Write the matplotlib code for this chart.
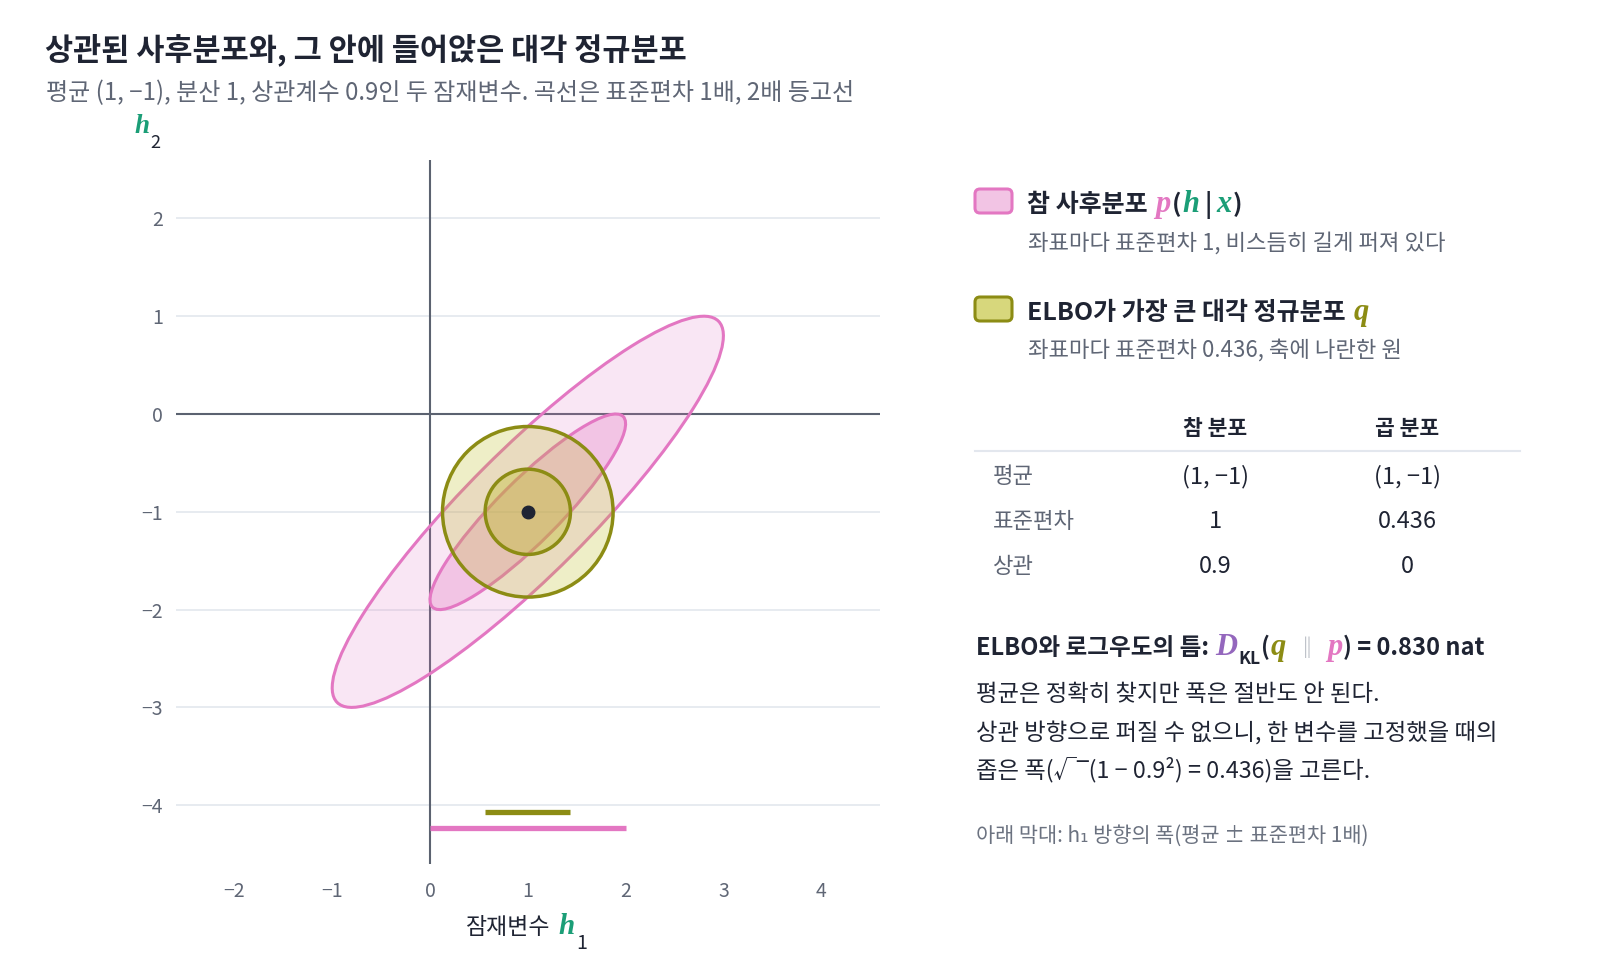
import numpy as np
import matplotlib
matplotlib.use('Agg')
import matplotlib.pyplot as plt
from matplotlib.patches import Ellipse, FancyBboxPatch

KR = ['Noto Sans CJK KR', 'DejaVu Sans']
SERIF = ['Liberation Serif', 'DejaVu Serif']
plt.rcParams['font.family'] = KR
plt.rcParams['axes.unicode_minus'] = True

# ---------------- data ----------------
mean = [1.0, -1.0]
p_std = 1.0
p_corr = 0.9
q_std = 0.436
levels = [1, 2]
kl_value = 0.830
x_ticks = [-2, -1, 0, 1, 2, 3, 4]
y_ticks = [-4, -3, -2, -1, 0, 1, 2]
table_cols = ['참 분포', '곱 분포']
table_rows = ['평균', '표준편차', '상관']
table_true = ['(1, −1)', '1', '0.9']
table_q = ['(1, −1)', '0.436', '0']

# ---------------- style ----------------
DARK = '#1f2433'
GRAY = '#5f6675'
LGRAY = '#6b7280'
PINK = '#e377c2'
OLIVE = '#8c8c14'
OLIVE_FILL = '#bcbd22'
GREEN = '#1b9e77'
PURPLE = '#9467bd'
GRID = '#e3e7ee'
AXLINE = '#5b6270'

W, H = 1600, 960
fig = plt.figure(figsize=(16, 9.6), dpi=100)
renderer = fig.canvas.get_renderer()

# overlay axes in pixel coordinates
ov = fig.add_axes([0, 0, 1, 1])
ov.set_xlim(0, W)
ov.set_ylim(H, 0)
ov.axis('off')

# main axes
x0px, y0px, upx = 430.0, 414.0, 97.8
xlim = (-2.6, 4.6)
ylim = (-4.6, 2.6)
left = x0px + xlim[0] * upx
right = x0px + xlim[1] * upx
top = y0px - ylim[1] * upx
bottom = y0px - ylim[0] * upx
ax = fig.add_axes([left / W, 1 - bottom / H, (right - left) / W, (bottom - top) / H])
ax.set_xlim(*xlim)
ax.set_ylim(*ylim)
for s in ax.spines.values():
    s.set_visible(False)
ax.set_xticks(x_ticks)
ax.set_yticks(y_ticks)
ax.tick_params(length=0, labelsize=14, labelcolor=GRAY)
ax.tick_params(axis='x', pad=12.5)
ax.tick_params(axis='y', pad=9)
for yv in y_ticks:
    ax.axhline(yv, color=GRID, lw=1.2, zorder=0)
ax.axhline(0, color=AXLINE, lw=1.5, zorder=1)
ax.axvline(0, color=AXLINE, lw=1.5, zorder=1)

# true posterior ellipses
cov = np.array([[p_std ** 2, p_corr * p_std ** 2], [p_corr * p_std ** 2, p_std ** 2]])
vals, vecs = np.linalg.eigh(cov)
order = np.argsort(vals)[::-1]
vals, vecs = vals[order], vecs[:, order]
angle = np.degrees(np.arctan2(vecs[1, 0], vecs[0, 0]))
for k, a in zip(sorted(levels, reverse=True), [0.18, 0.30]):
    e = Ellipse(mean, 2 * k * np.sqrt(vals[0]), 2 * k * np.sqrt(vals[1]), angle=angle,
                facecolor=PINK, alpha=a, edgecolor='none', zorder=2)
    ax.add_patch(e)
    e2 = Ellipse(mean, 2 * k * np.sqrt(vals[0]), 2 * k * np.sqrt(vals[1]), angle=angle,
                 facecolor='none', edgecolor=PINK, lw=2.2, zorder=2.5)
    ax.add_patch(e2)

# factorised q circles
for k, a in zip(sorted(levels, reverse=True), [0.25, 0.35]):
    c = Ellipse(mean, 2 * k * q_std, 2 * k * q_std, facecolor=OLIVE_FILL, alpha=a,
                edgecolor='none', zorder=3)
    ax.add_patch(c)
    c2 = Ellipse(mean, 2 * k * q_std, 2 * k * q_std, facecolor='none', edgecolor=OLIVE,
                 lw=2.5, zorder=4)
    ax.add_patch(c2)
ax.plot([mean[0]], [mean[1]], 'o', color=DARK, ms=9, zorder=5)

# width bars along h1
ax.plot([mean[0] - q_std, mean[0] + q_std], [-4.07, -4.07], color=OLIVE, lw=3.8,
        solid_capstyle='butt', zorder=3)
ax.plot([mean[0] - p_std, mean[0] + p_std], [-4.235, -4.235], color=PINK, lw=3.8,
        solid_capstyle='butt', zorder=3)


def rich(x, y, pieces):
    """pieces: (text, kwargs, dy, gap_after)"""
    cx = x
    for s, kw, dy, gap in pieces:
        t = ov.text(cx, y + dy, s, ha='left', va='baseline', **kw)
        bb = t.get_window_extent(renderer)
        cx += bb.width + gap
    return cx


def it(color, size):
    return dict(family=SERIF, style='italic', weight='bold', color=color, size=size)


# title / subtitle
ov.text(45, 59, '상관된 사후분포와, 그 안에 들어앉은 대각 정규분포', size=22, weight='bold',
        color=DARK, va='baseline')
ov.text(46, 100, '평균 (1, −1), 분산 1, 상관계수 0.9인 두 잠재변수. 곡선은 표준편차 1배, 2배 등고선',
        size=17.3, color=GRAY, va='baseline')

# axis labels
rich(134, 133, [('h', it(GREEN, 19.5), 0, 1), ('2', dict(size=13, color=DARK), 15, 0)])
rich(466, 934, [('잠재변수', dict(size=16.5, color=DARK), 0, 8),
                ('h', it(GREEN, 21), 0, 1),
                ('1', dict(size=14, color=DARK), 15, 0)])

# legend
ov.add_patch(FancyBboxPatch((975, 189), 37, 24, boxstyle='round,pad=0,rounding_size=5',
                            facecolor='#f2c4e4', edgecolor=PINK, lw=2.2))
ov.add_patch(FancyBboxPatch((975, 297), 37, 24, boxstyle='round,pad=0,rounding_size=5',
                            facecolor='#d7d77c', edgecolor=OLIVE, lw=2.2))
hb = dict(size=18, weight='bold', color=DARK)
rich(1027, 212, [('참 사후분포', hb, 0, 8),
                 ('p', it(PINK, 22), 0, 1),
                 ('(', hb, 0, 1),
                 ('h', it(GREEN, 22), 0, 5),
                 ('|', hb, 0, 5),
                 ('x', it(GREEN, 22), 0, 1),
                 (')', hb, 0, 0)])
ov.text(1028, 250, '좌표마다 표준편차 1, 비스듬히 길게 퍼져 있다', size=16, color=GRAY, va='baseline')
rich(1027, 320, [('ELBO가 가장 큰 대각 정규분포', hb, 0, 8),
                 ('q', it(OLIVE, 22), 0, 0)])
ov.text(1028, 357, '좌표마다 표준편차 0.436, 축에 나란한 원', size=16, color=GRAY, va='baseline')

# table
col_x = [1215, 1407]
for cx, name in zip(col_x, table_cols):
    ov.text(cx, 435, name, size=15.5, weight='bold', color=DARK, ha='center', va='baseline')
ov.plot([975, 1520], [451, 451], color=GRID, lw=1.5)
row_y = [483, 528, 573]
for ry, lab, a, b in zip(row_y, table_rows, table_true, table_q):
    ov.text(993, ry, lab, size=16, color=GRAY, va='baseline')
    ov.text(col_x[0], ry, a, size=17, color=DARK, ha='center', va='baseline')
    ov.text(col_x[1], ry, b, size=17, color=DARK, ha='center', va='baseline')

# KL explanation
kb = dict(size=17, weight='bold', color=DARK)
rich(976, 655, [('ELBO와 로그우도의 틈:', kb, 0, 6),
                ('D', it(PURPLE, 22), 0, 1),
                ('KL', dict(size=12.5, weight='bold', color=DARK), 9, 1),
                ('(', kb, 0, 1),
                ('q', it(OLIVE, 22), 0, 10),
                ('‖', dict(size=15, color='#9aa0ab'), 0, 10),
                ('p', it(PINK, 22), 0, 1),
                (') = {:.3f} nat'.format(kl_value), kb, 0, 0)])
body = ['평균은 정확히 찾지만 폭은 절반도 안 된다.',
        '상관 방향으로 퍼질 수 없으니, 한 변수를 고정했을 때의',
        '좁은 폭(√‾(1 − 0.9²) = 0.436)을 고른다.']
for by, line in zip([701, 739.5, 777.5], body):
    ov.text(976, by, line, size=16.8, color=DARK, va='baseline')
ov.text(976, 842, '아래 막대: h₁ 방향의 폭(평균 ± 표준편차 1배)', size=15, color=LGRAY,
        va='baseline')

fig.savefig('out.png', dpi=100)
